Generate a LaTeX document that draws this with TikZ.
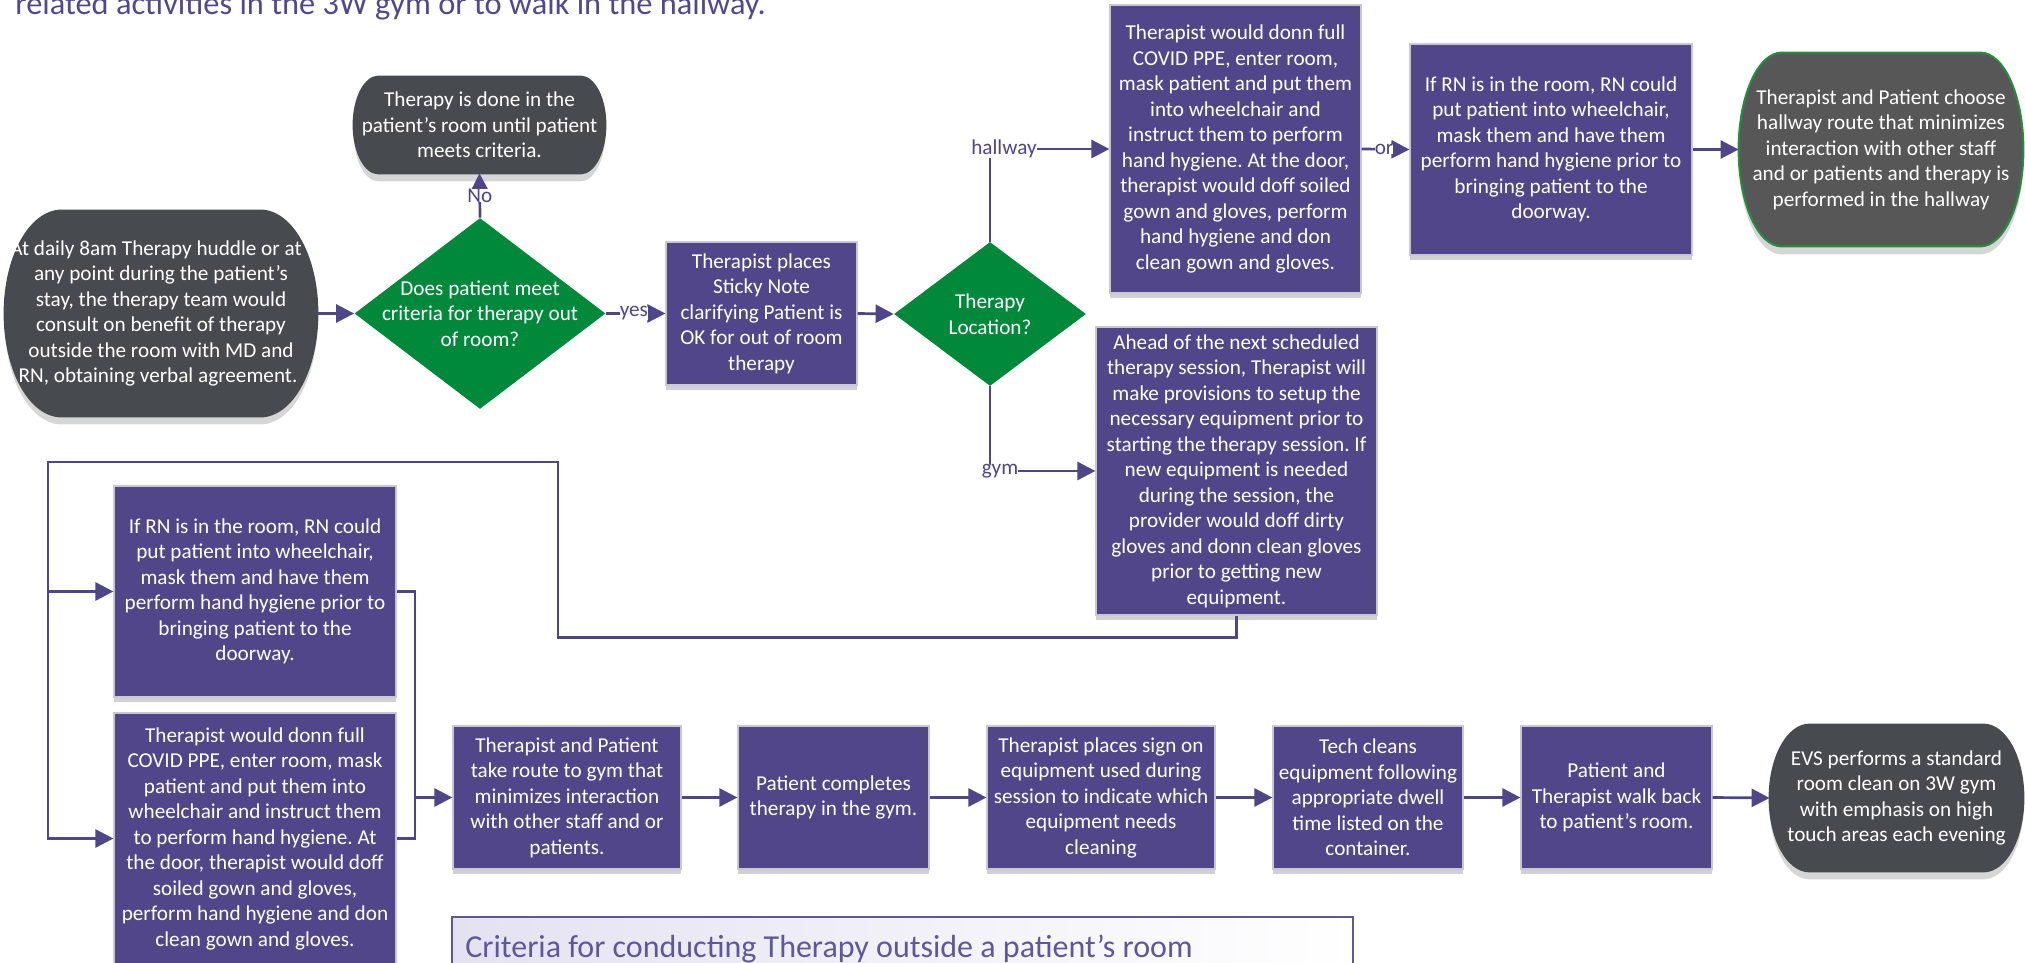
\documentclass[tikz,border=0pt]{standalone}
\usepackage{fontspec}
\setmainfont{Carlito}
\usetikzlibrary{arrows.meta,shapes.geometric,calc,backgrounds,shadows}
\definecolor{boxfill}{RGB}{81,70,138}
\definecolor{conn}{RGB}{79,69,137}
\definecolor{dgreen}{RGB}{0,137,59}
\definecolor{termgray}{RGB}{71,75,79}
\definecolor{termgraytwo}{RGB}{87,87,87}
\definecolor{termgreen}{RGB}{40,140,62}
\definecolor{boxedge}{RGB}{200,200,212}
\definecolor{titlecol}{RGB}{82,72,140}
\definecolor{critcol}{RGB}{95,87,152}
\definecolor{critfill}{RGB}{228,226,240}
\newcommand\zl[1]{\makebox[0pt]{#1}}
\newcommand\termshape[4]{%
  \path[fill=black, opacity=0.16] let \p1=(#1.south west), \p2=(#1.north east), \n1={(\y2-\y1)/2} in
    (\x1+#2,\y1-4pt) -- (\x2-#2,\y1-4pt)
    arc[start angle=-90,end angle=90,x radius=#2,y radius={\n1*1pt}]
    -- (\x1+#2,\y2-4pt)
    arc[start angle=90,end angle=270,x radius=#2,y radius={\n1*1pt}] -- cycle;
  \path[fill=#3, draw=#4, line width=1pt] let \p1=(#1.south west), \p2=(#1.north east), \n1={(\y2-\y1)/2} in
    (\x1+#2,\y1) -- (\x2-#2,\y1)
    arc[start angle=-90,end angle=90,x radius=#2,y radius={\n1*1pt}]
    -- (\x1+#2,\y2)
    arc[start angle=90,end angle=270,x radius=#2,y radius={\n1*1pt}] -- cycle;
}
\frenchspacing
\begin{document}
\begin{tikzpicture}[x=0.5pt,y=-0.5pt,
  connline/.style={draw=conn, line width=1.35pt},
  arr/.style={connline, -{Triangle[length=9pt,width=9pt]}},
  txt/.style={font=\fontsize{10.6pt}{12.75pt}\selectfont, text=white, align=center, inner sep=0pt},
  pbox/.style={txt, rectangle, fill=boxfill, draw=boxedge, line width=0.6pt,
    drop shadow={shadow xshift=0pt, shadow yshift=-2.5pt, opacity=0.18, fill=black}},
  dia/.style={txt, diamond, fill=dgreen},
  term/.style={txt},
  lbl/.style={font=\fontsize{10.6pt}{12.75pt}\selectfont, text=conn, fill=white, inner sep=0pt},
  sz/.style 2 args={minimum width=#1*0.5pt, minimum height=#2*0.5pt}]
\useasboundingbox (0,0) rectangle (2025,963);
\clip (0,0) rectangle (2025,963);

% title text (cut at top)
\node[anchor=base west, inner sep=0pt, font=\fontsize{16.2pt}{19pt}\selectfont, text=titlecol] (title) at (15,15)
  {related activities in the 3W gym or to walk in the hallway.};

% top row
\node[term, sz={312}{205}] (start) at (161,313.5)
  {\zl{\hspace*{-5pt}At daily 8am Therapy huddle or at}\\\zl{any point during the patient’s}\\\zl{stay, the therapy team would}\\\zl{consult on benefit of therapy}\\\zl{outside the room with MD and}\\\zl{\hspace*{-3pt}RN, obtaining verbal agreement.}};
\node[term, sz={251}{96}] (nodone) at (479.5,125)
  {Therapy is done in the\\patient’s room until patient\\meets criteria.};
\node[dia, sz={251}{191}] (d1) at (480,313.5)
  {\zl{Does patient meet}\\\zl{criteria for therapy out}\\\zl{of room?}};
\node[pbox, sz={191}{143}] (sticky) at (761.5,313.5)
  {Therapist places\\Sticky Note\\clarifying Patient is\\OK for out of room\\therapy};
\node[dia, sz={192}{144}] (d2) at (990,314)
  {\zl{Therapy}\\\zl{Location?}};
\node[pbox, sz={251}{288}] (hall) at (1235.5,149)
  {Therapist would donn full\\COVID PPE, enter room,\\mask patient and put them\\into wheelchair and\\instruct them to perform\\hand hygiene. At the door,\\therapist would doff soiled\\gown and gloves, perform\\hand hygiene and don\\clean gown and gloves.};
\node[pbox, sz={282}{211}] (rnone) at (1551,149.5)
  {If RN is in the room, RN could\\put patient into wheelchair,\\mask them and have them\\perform hand hygiene prior to\\bringing patient to the\\doorway.};
\node[term, sz={284}{193}] (hallend) at (1881,149.5)
  {Therapist and Patient choose\\hallway route that minimizes\\interaction with other staff\\and or patients and therapy is\\performed in the hallway};
\node[pbox, sz={281}{288}] (gymbox) at (1236.5,471)
  {Ahead of the next scheduled\\therapy session, Therapist will\\make provisions to setup the\\necessary equipment prior to\\starting the therapy session. If\\new equipment is needed\\during the session, the\\provider would doff dirty\\gloves and donn clean gloves\\prior to getting new\\equipment.};

% lower left
\node[pbox, sz={282}{211}] (rntwo) at (255,591.5)
  {If RN is in the room, RN could\\put patient into wheelchair,\\mask them and have them\\perform hand hygiene prior to\\bringing patient to the\\doorway.};
\node[pbox, sz={282}{251}] (donntwo) at (255,838.5)
  {Therapist would donn full\\COVID PPE, enter room, mask\\patient and put them into\\wheelchair and instruct them\\to perform hand hygiene. At\\the door, therapist would doff\\soiled gown and gloves,\\perform hand hygiene and don\\clean gown and gloves.};

% lower row
\node[pbox, sz={228}{143}] (tp) at (567,797.5)
  {Therapist and Patient\\take route to gym that\\minimizes interaction\\with other staff and or\\patients.};
\node[pbox, sz={191}{143}] (pc) at (833.5,797.5)
  {Patient completes\\therapy in the gym.};
\node[pbox, sz={228}{143}] (sign) at (1101,797.5)
  {Therapist places sign on\\equipment used during\\session to indicate which\\equipment needs\\cleaning};
\node[pbox, sz={190}{143}] (tech) at (1368,797.5)
  {Tech cleans\\equipment following\\appropriate dwell\\time listed on the\\container.};
\node[pbox, sz={191}{143}] (walk) at (1616.5,797.5)
  {Patient and\\Therapist walk back\\to patient’s room.};
\node[term, sz={253}{146}] (evs) at (1896.5,798)
  {EVS performs a standard\\room clean on 3W gym\\with emphasis on high\\touch areas each evening};

% terminal shapes behind text
\begin{pgfonlayer}{background}
  \termshape{start}{28.5pt}{termgray}{termgray}
  \termshape{nodone}{12.5pt}{termgray}{termgray}
  \termshape{hallend}{21.5pt}{termgraytwo}{termgreen}
  \termshape{evs}{20pt}{termgray}{termgray}
\end{pgfonlayer}

% criteria box (cut at bottom)
\draw[draw=critcol, line width=1.2pt, left color=critfill, right color=white] (452,917) rectangle (1353,1010);
\node[anchor=base west, inner sep=0pt, font=\fontsize{16pt}{19pt}\selectfont, text=critcol] (crit) at (465,957)
  {Criteria for conducting Therapy outside a patient’s room};

% connectors
\draw[arr] (start.east) -- (d1.west);
\draw[arr] (d1.north) -- node[lbl]{No} (nodone.south);
\draw[arr] (d1.east) -- node[lbl, pos=0.47]{yes} (sticky.west);
\draw[arr] (sticky.east) -- (d2.west);
\draw[arr] (d2.north) |- node[lbl, pos=0.5, xshift=7pt]{hallway} (hall.west);
\draw[arr] (hall.east) -- node[lbl, pos=0.47]{or} (rnone.west);
\draw[arr] (rnone.east) -- (hallend.west);
\draw[arr] (d2.south) |- node[lbl, pos=0.5, xshift=5pt]{gym} (gymbox.west);

\coordinate (jone) at (558,462);
\coordinate (jtwo) at (48,462);
\coordinate (jthree) at (415,797.5);
\draw[arr] (gymbox.south) -- ++(0,22) -| (jone) -- (jtwo) |- (rntwo.west);
\draw[arr] (jtwo) |- (donntwo.west);
\draw[connline] (rntwo.east) -| (jthree);
\draw[connline] (donntwo.east) -| (jthree);
\draw[arr] (jthree) -- (tp.west);

\draw[arr] (tp.east) -- (pc.west);
\draw[arr] (pc.east) -- (sign.west);
\draw[arr] (sign.east) -- (tech.west);
\draw[arr] (tech.east) -- (walk.west);
\draw[arr] (walk.east) -- (evs.west);
\end{tikzpicture}
\end{document}
